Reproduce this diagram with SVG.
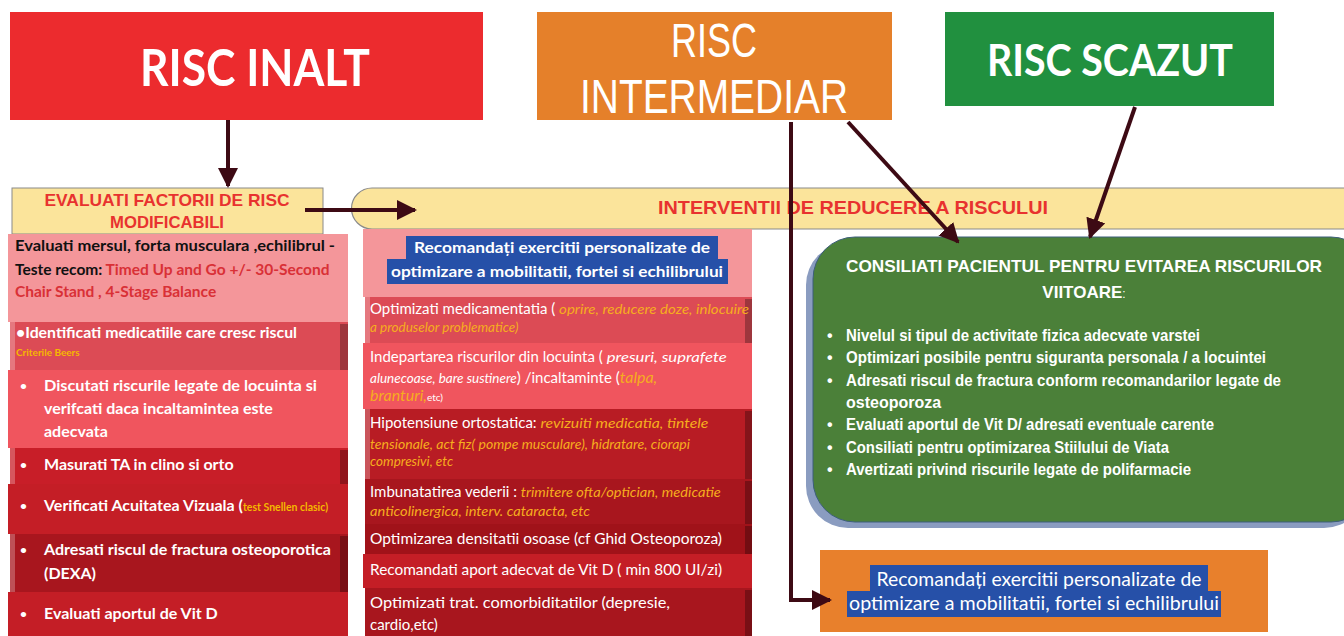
<svg xmlns="http://www.w3.org/2000/svg" width="1344" height="636" viewBox="0 0 1344 636">
<defs>
<marker id="ah" viewBox="0 0 10 10" refX="9" refY="5" markerWidth="5" markerHeight="5" markerUnits="strokeWidth" orient="auto">
<path d="M0,0 L10,5 L0,10 z" fill="#3d0a14"/>
</marker>
<style>
.sans{font-family:Lato,"Liberation Sans",sans-serif}
.narrow{font-family:"Liberation Sans Narrow","Liberation Sans",sans-serif;font-stretch:condensed}
.wb{fill:#ffffff;font-weight:bold}
.wr{fill:#ffffff}
.or{fill:#f6ad1e;font-style:italic}
.bul{font-size:12px}
.conn{stroke:#3d0a14;stroke-width:4;fill:none}
.edgeR{fill:#000000;opacity:0.28}
.edgeL{fill:#ffffff;opacity:0.25}
</style>
</defs>
<rect width="1344" height="636" fill="#ffffff"/>

<g id="risc-inalt">
<rect x="10" y="12" width="473" height="108" fill="#ec2b2e"/>
<text x="255" y="86" text-anchor="middle" class="sans wb" font-size="52" textLength="230" lengthAdjust="spacingAndGlyphs">RISC INALT</text>
</g>

<g id="risc-intermediar">
<rect x="537" y="12" width="355" height="108" fill="#e5802a"/>
<text x="714" y="57" text-anchor="middle" class="narrow wr" font-size="48" textLength="86" lengthAdjust="spacingAndGlyphs">RISC</text>
<text x="714" y="113" text-anchor="middle" class="narrow wr" font-size="48" textLength="268" lengthAdjust="spacingAndGlyphs">INTERMEDIAR</text>
</g>

<g id="risc-scazut">
<rect x="945" y="12" width="329" height="94" fill="#21903f"/>
<text x="1110" y="76" text-anchor="middle" class="sans wb" font-size="44" textLength="246" lengthAdjust="spacingAndGlyphs">RISC SCAZUT</text>
</g>

<g id="evaluati-factorii">
<rect x="12" y="188" width="311" height="46" fill="#fbe49b" stroke="#8a8a8a" stroke-width="1"/>
<text x="167" y="206" text-anchor="middle" class="narrow" font-size="17" font-weight="bold" fill="#e8322f" textLength="245" lengthAdjust="spacingAndGlyphs">EVALUATI  FACTORII  DE RISC</text>
<text x="167" y="228" text-anchor="middle" class="narrow" font-size="17" font-weight="bold" fill="#e8322f" textLength="114" lengthAdjust="spacingAndGlyphs">MODIFICABILI</text>
</g>

<g id="interventii">
<path d="M372,188 H1350 V229 H372 A20.5,20.5 0 0 1 372,188 z" fill="#fbe49b" stroke="#8a8a8a" stroke-width="1.2"/>
<text x="853" y="214" text-anchor="middle" class="narrow" font-size="18" font-weight="bold" fill="#e8322f" textLength="390" lengthAdjust="spacingAndGlyphs">INTERVENTII  DE  REDUCERE  A RISCULUI</text>
</g>

<g id="left-list">
<rect x="8" y="234" width="340" height="88" fill="#f4969a"/>
<text class="sans" font-size="15.5" font-weight="bold" fill="#111">
<tspan x="15" y="251" textLength="320" lengthAdjust="spacingAndGlyphs">Evaluati mersul, forta musculara ,echilibrul  -</tspan>
<tspan x="15" y="275">Teste recom: <tspan fill="#d93036">Timed Up and Go  +/- 30-Second</tspan></tspan>
<tspan x="15" y="297" fill="#d93036">Chair Stand , 4-Stage Balance</tspan>
</text>

<rect x="10" y="322" width="338" height="48" fill="#dc4b55"/>
<rect x="340" y="324" width="8" height="46" class="edgeR"/>
<rect x="10" y="322" width="5" height="48" class="edgeL"/>
<text x="16" y="338" class="sans wb" font-size="16" textLength="281" lengthAdjust="spacingAndGlyphs">•Identificati medicatiile care cresc riscul</text>
<text x="16" y="356" class="sans" font-size="10" font-weight="bold" fill="#f5b800">Criterile Beers</text>

<rect x="8" y="370" width="340" height="78" fill="#f0555e"/>
<text class="sans wb" font-size="16">
<tspan x="20" y="390" class="bul">•</tspan><tspan x="44" y="391" textLength="273" lengthAdjust="spacingAndGlyphs">Discutati riscurile legate de  locuinta si</tspan>
<tspan x="44" y="414">verifcati daca incaltamintea este</tspan>
<tspan x="44" y="437">adecvata</tspan>
</text>

<rect x="10" y="448" width="338" height="36" fill="#c81e28"/>
<rect x="340" y="450" width="8" height="34" class="edgeR"/>
<rect x="10" y="448" width="5" height="36" class="edgeL"/>
<text class="sans wb" font-size="16"><tspan x="20" y="469" class="bul">•</tspan><tspan x="44" y="470">Masurati TA in clino si orto</tspan></text>

<rect x="8" y="484" width="340" height="50" fill="#c41e26"/>
<text class="sans wb" font-size="16"><tspan x="20" y="510" class="bul">•</tspan><tspan x="44" y="511">Verificati Acuitatea Vizuala (<tspan fill="#f5b800" font-size="10.5">test Snellen clasic)</tspan></tspan></text>

<rect x="10" y="534" width="338" height="58" fill="#a8161e"/>
<rect x="340" y="536" width="8" height="56" class="edgeR"/>
<rect x="10" y="534" width="5" height="58" class="edgeL"/>
<text class="sans wb" font-size="16"><tspan x="20" y="554" class="bul">•</tspan><tspan x="44" y="555" textLength="287" lengthAdjust="spacingAndGlyphs">Adresati riscul de fractura osteoporotica</tspan>
<tspan x="44" y="579">(DEXA)</tspan></text>

<rect x="8" y="592" width="340" height="44" fill="#c41e26"/>
<text class="sans wb" font-size="16"><tspan x="20" y="618" class="bul">•</tspan><tspan x="44" y="619">Evaluati aportul de Vit D</tspan></text>
</g>

<g id="middle-list">
<rect x="363" y="229" width="389" height="68" fill="#f4969a"/>
<rect x="406" y="236" width="312" height="23" fill="#2650a8"/>
<rect x="387" y="259" width="341" height="25" fill="#2650a8"/>
<text x="562" y="253" text-anchor="middle" class="sans wb" font-size="16" textLength="296" lengthAdjust="spacingAndGlyphs">Recomandați exercitii personalizate de</text>
<text x="557" y="277" text-anchor="middle" class="sans wb" font-size="16" textLength="332" lengthAdjust="spacingAndGlyphs">optimizare a mobilitatii, fortei si echilibrului</text>

<rect x="365" y="297" width="387" height="46" fill="#dc4b55"/>
<rect x="745" y="299" width="7" height="44" class="edgeR"/>
<rect x="365" y="297" width="5" height="46" class="edgeL"/>
<text class="sans" font-size="15"><tspan x="370" y="314" class="wr">Optimizati medicamentatia ( </tspan><tspan class="or" font-size="12.5" textLength="190" lengthAdjust="spacingAndGlyphs">oprire, reducere doze, inlocuire</tspan>
<tspan x="370" y="332" class="or" font-size="13.5">a produselor problematice)</tspan></text>

<rect x="363" y="343" width="389" height="66" fill="#f0555e"/>
<text class="sans" font-size="15"><tspan x="370" y="362" class="wr">Indepartarea  riscurilor din locuinta  ( </tspan><tspan font-size="12.5" style="fill:#ffffff;font-style:italic" textLength="120" lengthAdjust="spacingAndGlyphs">presuri, suprafete</tspan>
<tspan x="370" y="383" style="fill:#ffffff;font-style:italic" font-size="13.5">alunecoase, bare sustinere</tspan><tspan class="wr">) /incaltaminte (</tspan><tspan class="or" font-size="16">talpa,</tspan>
<tspan x="370" y="401" class="or" font-size="16">branturi,</tspan><tspan class="wr" font-size="10">etc)</tspan></text>

<rect x="365" y="409" width="387" height="70" fill="#b81c24"/>
<rect x="745" y="411" width="7" height="68" class="edgeR"/>
<rect x="365" y="409" width="5" height="70" class="edgeL"/>
<text class="sans" font-size="15"><tspan x="370" y="428" class="wr">Hipotensiune ortostatica: </tspan><tspan class="or" font-size="12.5" textLength="168" lengthAdjust="spacingAndGlyphs">revizuiti medicatia, tintele</tspan>
<tspan x="370" y="449" class="or" font-size="12.5" textLength="320" lengthAdjust="spacingAndGlyphs">tensionale, act fiz( pompe musculare), hidratare, ciorapi</tspan>
<tspan x="370" y="466" class="or" font-size="13.5">compresivi, etc</tspan></text>

<rect x="365" y="479" width="387" height="45" fill="#a8161e"/>
<rect x="745" y="481" width="7" height="43" class="edgeR"/>
<text class="sans" font-size="15"><tspan x="370" y="497" class="wr">Imbunatatirea vederii :  </tspan><tspan class="or" font-size="12.5" textLength="200" lengthAdjust="spacingAndGlyphs">trimitere ofta/optician, medicatie</tspan>
<tspan x="370" y="516" class="or" font-size="12.5" textLength="220" lengthAdjust="spacingAndGlyphs">anticolinergica, interv. cataracta, etc</tspan></text>

<rect x="365" y="524" width="387" height="30" fill="#a01219"/>
<rect x="745" y="526" width="7" height="28" class="edgeR"/>
<text x="370" y="544" class="sans wr" font-size="15" textLength="352" lengthAdjust="spacingAndGlyphs">Optimizarea densitatii osoase (cf Ghid Osteoporoza)</text>

<rect x="363" y="554" width="389" height="34" fill="#c41e26"/>
<text x="370" y="575" class="sans wr" font-size="15" textLength="352" lengthAdjust="spacingAndGlyphs">Recomandati aport adecvat de Vit D ( min 800 UI/zi)</text>

<rect x="365" y="588" width="387" height="48" fill="#a8161e"/>
<rect x="745" y="590" width="7" height="46" class="edgeR"/>
<text class="sans wr" font-size="15"><tspan x="370" y="608" textLength="300" lengthAdjust="spacingAndGlyphs">Optimizati trat. comorbiditatilor  (depresie,</tspan>
<tspan x="370" y="630">cardio,etc)</tspan></text>
</g>

<g id="consiliati">
<rect x="806" y="243" width="560" height="285" rx="42" fill="#8a9cc0"/>
<rect x="813" y="237" width="560" height="285" rx="42" fill="#4b8039" stroke="#3d5f7a" stroke-width="1"/>
<g class="narrow" font-weight="bold" fill="#ffffff">
<text x="1084" y="272" text-anchor="middle" font-size="17" textLength="476" lengthAdjust="spacingAndGlyphs">CONSILIATI  PACIENTUL  PENTRU  EVITAREA  RISCURILOR</text>
<text x="1084" y="298" text-anchor="middle" font-size="17">VIITOARE<tspan font-weight="normal" font-size="12">:</tspan></text>
<g font-size="16">
<text x="827" y="341">•</text><text x="846" y="341" textLength="354" lengthAdjust="spacingAndGlyphs">Nivelul si tipul de activitate fizica adecvate varstei</text>
<text x="827" y="363">•</text><text x="846" y="363" textLength="420" lengthAdjust="spacingAndGlyphs">Optimizari posibile pentru  siguranta personala / a locuintei</text>
<text x="827" y="386">•</text><text x="846" y="386" textLength="435" lengthAdjust="spacingAndGlyphs">Adresati riscul de fractura conform recomandarilor  legate de</text>
<text x="846" y="408">osteoporoza</text>
<text x="827" y="430">•</text><text x="846" y="430" textLength="368" lengthAdjust="spacingAndGlyphs">Evaluati aportul de Vit D/ adresati eventuale carente</text>
<text x="827" y="453">•</text><text x="846" y="453" textLength="323" lengthAdjust="spacingAndGlyphs">Consiliati pentru optimizarea Stiilului de Viata</text>
<text x="827" y="475">•</text><text x="846" y="475" textLength="345" lengthAdjust="spacingAndGlyphs">Avertizati privind riscurile legate de polifarmacie</text>
</g>
</g>
</g>

<g id="recomandati-orange">
<rect x="820" y="550" width="448" height="82" fill="#e8802c"/>
<rect x="870" y="565" width="338" height="26" fill="#2650a8"/>
<rect x="847" y="591" width="374" height="26" fill="#2650a8"/>
<text x="1039" y="586" text-anchor="middle" class="sans wr" font-size="19" textLength="325" lengthAdjust="spacingAndGlyphs">Recomandați exercitii personalizate de</text>
<text x="1034" y="610" text-anchor="middle" class="sans wr" font-size="19" textLength="370" lengthAdjust="spacingAndGlyphs">optimizare a mobilitatii, fortei si echilibrului</text>
</g>

<g id="connectors">
<line x1="228" y1="120" x2="228" y2="186" class="conn" marker-end="url(#ah)"/>
<line x1="305" y1="210" x2="415" y2="210" class="conn" stroke-width="5" marker-end="url(#ah)"/>
<polyline points="791,122 791,600 830,600" class="conn" marker-end="url(#ah)"/>
<line x1="848" y1="122" x2="958" y2="242" class="conn" marker-end="url(#ah)"/>
<line x1="1135" y1="107" x2="1090" y2="237" class="conn" marker-end="url(#ah)"/>
</g>
</svg>
